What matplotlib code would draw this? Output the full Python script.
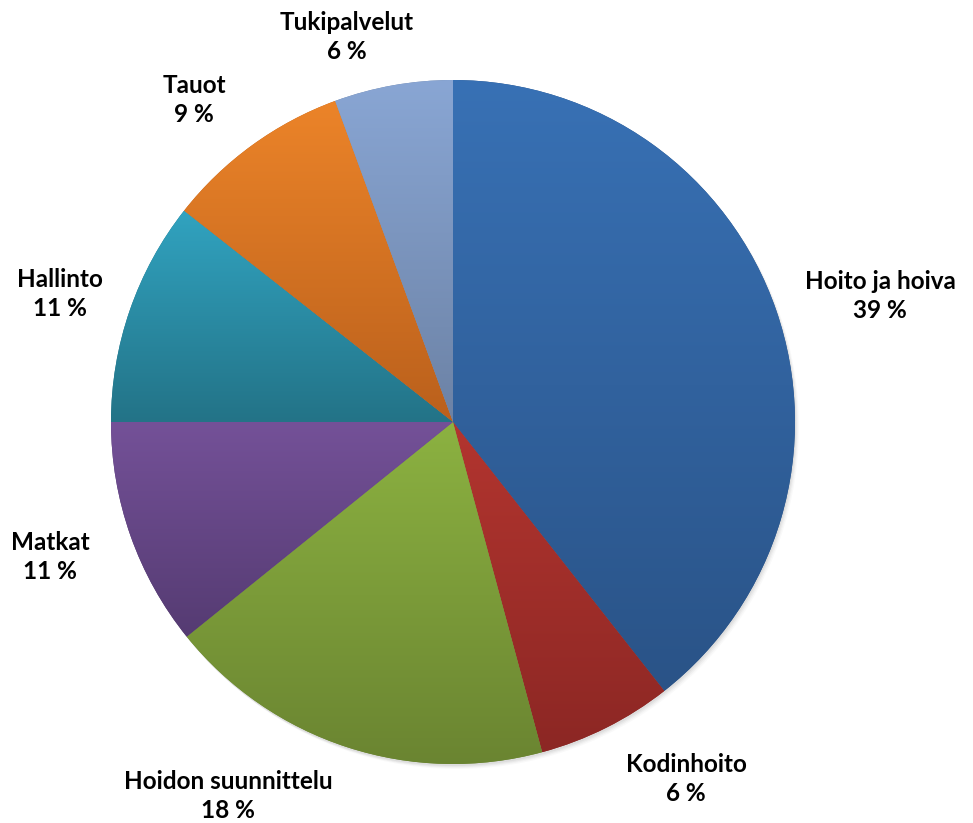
import numpy as np
import matplotlib.pyplot as plt
from matplotlib.colors import LinearSegmentedColormap
from matplotlib.patches import Circle

# slice shares (percent), clockwise from 12 o'clock
categories = ["Hoito ja hoiva", "Kodinhoito", "Hoidon suunnittelu", "Matkat",
              "Hallinto", "Tauot", "Tukipalvelut"]
shares = [39.4, 6.4, 18.4, 10.8, 10.6, 8.8, 5.6]

# gradient colours (top, bottom) per slice
top_colors = ["#3871B5", "#B3352F", "#8CB241", "#745198", "#31A3C0", "#EC8429", "#89A6D4"]
bottom_colors = ["#2A5387", "#8C2724", "#6A8431", "#553B72", "#237387", "#BA601C", "#6C82A5"]

# label centres in pixel coords (x, y from top)
label_pos = [(880, 296), (686, 779), (228, 796), (50, 557), (60, 294), (194, 100), (347, 37)]

W, H = 973, 823
cx, cy, r = 453, 422, 342

fig = plt.figure(figsize=(W / 100, H / 100), dpi=100)
ax = fig.add_axes([0, 0, 1, 1])
ax.set_xlim(0, W)
ax.set_ylim(0, H)
ax.set_aspect('equal')
ax.axis('off')

# soft shadow
for k, a in enumerate([0.10, 0.08, 0.06, 0.04]):
    ax.add_patch(Circle((cx + 1 + k, H - cy - 2 - k), r, color='#7f7f7f', alpha=a, lw=0, zorder=0))

wedges, _ = ax.pie(shares, startangle=90, counterclock=False, center=(cx, H - cy),
                   radius=r, wedgeprops=dict(linewidth=0))

grad = np.linspace(1, 0, 256).reshape(-1, 1)
for w, c1, c2 in zip(wedges, top_colors, bottom_colors):
    w.set_facecolor(c2)
    w.set_edgecolor('none')
    w.set_zorder(1)
    verts = w.get_path().vertices
    x0, y0 = verts.min(axis=0)
    x1, y1 = verts.max(axis=0)
    cmap = LinearSegmentedColormap.from_list('g', [c2, c1])
    im = ax.imshow(grad, cmap=cmap, extent=[x0, x1, y0, y1], aspect='auto',
                   origin='upper', zorder=2, interpolation='bilinear')
    im.set_clip_path(w)

for name, val, (lx, ly) in zip(categories, shares, label_pos):
    ax.text(lx, H - ly, f"{name}\n{round(val):d} %", ha='center', va='center',
            fontsize=17.5, fontweight='bold', family='Lato', color='#000000',
            linespacing=1.35)

ax.set_xlim(0, W)
ax.set_ylim(0, H)
fig.savefig('out.png', dpi=100)
